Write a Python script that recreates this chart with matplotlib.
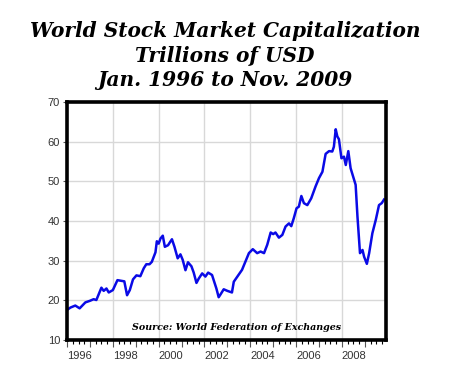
import matplotlib
matplotlib.use('Agg')
import matplotlib.pyplot as plt
import numpy as np

# decimal year vs. trillions of USD
years = [1996.00, 1996.15, 1996.36, 1996.55, 1996.80, 1997.00, 1997.16, 1997.28,
         1997.50, 1997.60, 1997.72, 1997.82, 1998.00, 1998.20, 1998.40, 1998.50,
         1998.62, 1998.74, 1998.88, 1999.03, 1999.20, 1999.35, 1999.46, 1999.60,
         1999.70, 1999.86, 1999.92, 2000.00, 2000.08, 2000.18, 2000.27, 2000.41,
         2000.51, 2000.58, 2000.69, 2000.83, 2000.95, 2001.05, 2001.17, 2001.28,
         2001.43, 2001.53, 2001.65, 2001.75, 2001.90, 2002.04, 2002.16, 2002.33,
         2002.52, 2002.62, 2002.70, 2002.84, 2003.00, 2003.20, 2003.28, 2003.64,
         2003.94, 2004.11, 2004.30, 2004.45, 2004.60, 2004.74, 2004.89, 2005.00,
         2005.10, 2005.25, 2005.40, 2005.54, 2005.69, 2005.79, 2005.90, 2006.02,
         2006.12, 2006.23, 2006.34, 2006.49, 2006.66, 2006.85, 2007.00, 2007.15,
         2007.29, 2007.44, 2007.58, 2007.65, 2007.73, 2007.80, 2007.87, 2007.98,
         2008.09, 2008.17, 2008.28, 2008.38, 2008.49, 2008.60, 2008.68, 2008.79,
         2008.90, 2008.97, 2009.09, 2009.19, 2009.33, 2009.48, 2009.62, 2009.74,
         2009.84]
cap = [17.6, 18.2, 18.7, 18.0, 19.5, 19.9, 20.3, 20.1,
       23.2, 22.4, 23.0, 22.0, 22.6, 25.1, 24.9, 24.8,
       21.3, 22.6, 25.3, 26.3, 26.1, 28.1, 29.1, 29.1,
       29.7, 32.1, 34.9, 34.3, 35.6, 36.3, 33.5, 33.9,
       34.8, 35.4, 33.5, 30.6, 31.6, 30.2, 27.6, 29.6,
       28.6, 27.0, 24.4, 25.5, 26.8, 26.0, 27.0, 26.4,
       23.0, 20.8, 21.5, 22.8, 22.4, 22.0, 24.7, 27.7,
       31.9, 32.9, 31.9, 32.3, 31.9, 34.0, 37.1, 36.7,
       37.1, 35.8, 36.5, 38.6, 39.4, 38.7, 40.7, 43.2,
       43.6, 46.3, 44.5, 44.0, 45.7, 48.7, 50.8, 52.4,
       56.9, 57.6, 57.5, 58.7, 63.1, 61.3, 60.6, 55.8,
       56.2, 54.1, 57.6, 53.3, 51.2, 49.1, 41.1, 31.9,
       32.7, 31.0, 29.2, 31.9, 36.9, 40.3, 44.0, 44.5,
       45.4]

year_ticks = list(range(1996, 2010))
year_labels = [str(y) if y % 2 == 0 else '' for y in year_ticks]
y_ticks = [10, 20, 30, 40, 50, 60, 70]

fig = plt.figure(figsize=(4.5, 3.83), dpi=100)
ax = fig.add_axes([0.149, 0.112, 0.709, 0.622])

ax.plot(years, cap, color='#0a0ae6', lw=1.8)

ax.set_xlim(1996, 2009.93)
ax.set_ylim(10, 70)
ax.set_xticks(year_ticks)
ax.set_xticklabels(year_labels, ha='left')
ax.set_xticks(np.arange(1996, 2010, 0.25), minor=True)
ax.set_yticks(y_ticks)

# gridlines only every 2 years
for yr in range(1998, 2010, 2):
    ax.axvline(yr, color='#d8d8d8', lw=1, zorder=0)
for v in y_ticks[1:-1]:
    ax.axhline(v, color='#d8d8d8', lw=1, zorder=0)

for s in ax.spines.values():
    s.set_linewidth(2.6)
    s.set_color('black')

ax.tick_params(axis='both', labelsize=8, labelcolor='#333333', color='#555555')
ax.tick_params(axis='x', which='major', length=5, width=0.8, pad=3)
ax.tick_params(axis='x', which='minor', length=3, width=0.8)
ax.tick_params(axis='y', length=3, width=0.8, pad=2)
for lab in ax.get_xticklabels():
    lab.set_family('Liberation Sans')
for lab in ax.get_yticklabels():
    lab.set_family('Liberation Sans')

ax.text(0.53, 0.035, 'Source: World Federation of Exchanges', transform=ax.transAxes,
        ha='center', va='bottom', fontsize=6.8, family='DejaVu Serif',
        style='italic', weight='bold')

fig.text(0.5, 0.945, 'World Stock Market Capitalization\nTrillions of USD\nJan. 1996 to Nov. 2009',
         ha='center', va='top', fontsize=14.5, family='DejaVu Serif',
         style='italic', weight='bold', linespacing=1.28)

fig.savefig('out.png', dpi=100)
